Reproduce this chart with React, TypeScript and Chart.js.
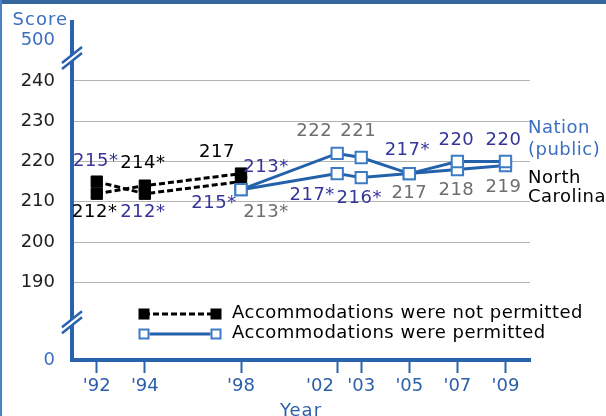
import React, { useEffect, useRef } from "react";
import { Chart, registerables } from "chart.js";

Chart.register(...registerables);

// ---------------- data ----------------
const notPermittedYears = [1992, 1994, 1998];
const permittedYears = [1998, 2002, 2003, 2005, 2007, 2009];

const ncNotPermitted = [212, 214, 217];
const nationNotPermitted = [215, 212, 215];
const ncPermitted = [213, 222, 221, 217, 218, 219];
const nationPermitted = [213, 217, 216, 217, 220, 220];

const ncNotPermittedLabels = ["212*", "214*", "217"];
const nationNotPermittedLabels = ["215*", "212*", "215*"];
const ncPermittedLabels = ["213*", "222", "221", "217", "218", "219"];
const nationPermittedLabels = ["213*", "217*", "216*", "217*", "220", "220"];

const xTickYears = [1992, 1994, 1998, 2002, 2003, 2005, 2007, 2009];
const yTickValues = [190, 200, 210, 220, 230, 240];
const yBreakBottomLabel = "0";
const yBreakTopLabel = "500";

const legendLabels = [
  "Accommodations were not permitted",
  "Accommodations were permitted",
];
const nationLabel = ["Nation", "(public)"];
const ncLabel = ["North", "Carolina"];
const yAxisTitle = "Score";
const xAxisTitle = "Year";

// ---------------- layout / style ----------------
const FONT = '"DejaVu Sans", Verdana, sans-serif';
const AXIS_BLUE = "#2a62ad";
const TICK_BLUE = "#2c5fa9";
const LIGHT_BLUE = "#3c6fc0";
const LINE_BLUE = "#2461ab";
const POINT_BLUE = "#3b7cc4";
const LABEL_BLUE = "#35359a";
const LABEL_GRAY = "#6e6e6e";

// compressed axis: position of "0" and "500" on the broken scale
const Y_ZERO_POS = 170.7;
const Y_TOP_POS = 250;
const Y_MAX = 254.65;
const X_MIN = 1990.97;
const X_MAX = 2010.02;

// label offsets (px) from point centers
const ncNotPermittedOffsets = [[-2, 19], [-2, -22], [-24, -21]];
const nationNotPermittedOffsets = [[-1, -20], [-2, 19], [-27, 22]];
const ncPermittedOffsets = [[25, 23], [-23, -22], [-3, -26], [0, 20], [-1, 21], [-2, 22]];
const nationPermittedOffsets = [[25, -22], [-25, 22], [-2, 21], [-2, -23], [-1, -21], [-2, -21]];
// extra right-padding (in spaces) for crowded x tick labels
const xTickPad: Record<number, string> = { 2002: "      " };

function pts(xs: number[], ys: number[]) {
  return xs.map((x, i) => ({ x, y: ys[i] }));
}

function drawBreak(ctx: CanvasRenderingContext2D, cx: number, cy: number) {
  const hx = 10, hy = 8, g = 3;
  ctx.save();
  ctx.fillStyle = "#ffffff";
  ctx.beginPath();
  ctx.moveTo(cx - hx, cy + hy - g);
  ctx.lineTo(cx + hx, cy - hy - g);
  ctx.lineTo(cx + hx, cy - hy + g);
  ctx.lineTo(cx - hx, cy + hy + g);
  ctx.closePath();
  ctx.fill();
  ctx.strokeStyle = AXIS_BLUE;
  ctx.lineWidth = 2.5;
  ctx.beginPath();
  ctx.moveTo(cx - hx, cy + hy - g);
  ctx.lineTo(cx + hx, cy - hy - g);
  ctx.moveTo(cx - hx, cy + hy + g);
  ctx.lineTo(cx + hx, cy - hy + g);
  ctx.stroke();
  ctx.restore();
}

function drawMarker(ctx: CanvasRenderingContext2D, x: number, y: number, filled: boolean) {
  const s = 11;
  ctx.save();
  if (filled) {
    ctx.fillStyle = "#000";
    ctx.fillRect(x - s / 2, y - s / 2, s, s);
  } else {
    ctx.fillStyle = "#fff";
    ctx.fillRect(x - s / 2, y - s / 2, s, s);
    ctx.strokeStyle = POINT_BLUE;
    ctx.lineWidth = 2;
    ctx.strokeRect(x - s / 2 + 1, y - s / 2 + 1, s - 2, s - 2);
  }
  ctx.restore();
}

const decorPlugin = {
  id: "decor",
  beforeDraw(chart: any) {
    const ctx = chart.ctx as CanvasRenderingContext2D;
    ctx.save();
    ctx.fillStyle = "#fff";
    ctx.fillRect(0, 0, chart.width, chart.height);
    ctx.fillStyle = "#33669b";
    ctx.fillRect(0, 0, chart.width, 4);
    ctx.fillStyle = "#4a82c4";
    ctx.fillRect(0, 0, 2, chart.height);
    ctx.restore();
  },
  afterDatasetsDraw(chart: any) {
    const ctx = chart.ctx as CanvasRenderingContext2D;
    const groups: [number, string[], number[][], string][] = [
      [0, nationPermittedLabels, nationPermittedOffsets, LABEL_BLUE],
      [1, ncPermittedLabels, ncPermittedOffsets, LABEL_GRAY],
      [2, nationNotPermittedLabels, nationNotPermittedOffsets, LABEL_BLUE],
      [3, ncNotPermittedLabels, ncNotPermittedOffsets, "#000"],
    ];
    ctx.save();
    ctx.font = `18px ${FONT}`;
    ctx.textAlign = "center";
    ctx.textBaseline = "middle";
    (ctx as any).letterSpacing = "0.5px";
    groups.forEach(([di, labels, offs, color]) => {
      const meta = chart.getDatasetMeta(di);
      meta.data.forEach((el: any, j: number) => {
        ctx.fillStyle = color;
        ctx.fillText(labels[j], el.x + offs[j][0], el.y + offs[j][1]);
      });
    });
    ctx.restore();
  },
  afterDraw(chart: any) {
    const ctx = chart.ctx as CanvasRenderingContext2D;
    const { chartArea } = chart;
    const yS = chart.scales.y;
    // axis breaks
    drawBreak(ctx, chartArea.left, yS.getPixelForValue(245.7));
    drawBreak(ctx, chartArea.left, yS.getPixelForValue(180.1));

    ctx.save();
    ctx.font = `18px ${FONT}`;
    ctx.textBaseline = "middle";
    // y title
    ctx.fillStyle = LIGHT_BLUE;
    ctx.textAlign = "right";
    (ctx as any).letterSpacing = "1px";
    ctx.fillText(yAxisTitle, 68, 20);
    // x title
    ctx.textAlign = "center";
    ctx.fillStyle = TICK_BLUE;
    ctx.fillText(xAxisTitle, (chartArea.left + chartArea.right) / 2, 411);

    // side labels
    (ctx as any).letterSpacing = "0.5px";
    ctx.textAlign = "left";
    const nMeta = chart.getDatasetMeta(0).data;
    const cMeta = chart.getDatasetMeta(1).data;
    const nLast = nMeta[nMeta.length - 1];
    const cLast = cMeta[cMeta.length - 1];
    ctx.fillStyle = LIGHT_BLUE;
    ctx.fillText(nationLabel[0], chartArea.right - 2, nLast.y - 33);
    ctx.fillText(nationLabel[1], chartArea.right - 2, nLast.y - 11);
    ctx.fillStyle = "#000";
    ctx.fillText(ncLabel[0], chartArea.right - 2, cLast.y + 13);
    ctx.fillText(ncLabel[1], chartArea.right - 2, cLast.y + 32);

    // legend
    const rows = [
      { y: 314, filled: true },
      { y: 334, filled: false },
    ];
    rows.forEach((r, i) => {
      ctx.save();
      if (r.filled) {
        ctx.strokeStyle = "#000";
        ctx.lineWidth = 3;
        ctx.setLineDash([6, 3]);
      } else {
        ctx.strokeStyle = LINE_BLUE;
        ctx.lineWidth = 3;
      }
      ctx.beginPath();
      ctx.moveTo(144, r.y);
      ctx.lineTo(216, r.y);
      ctx.stroke();
      ctx.restore();
      drawMarker(ctx, 144, r.y, r.filled);
      drawMarker(ctx, 216, r.y, r.filled);
      ctx.fillStyle = "#000";
      ctx.fillText(legendLabels[i], 232, r.y - 1);
    });
    ctx.restore();
  },
};

export default function App() {
  const canvasRef = useRef<HTMLCanvasElement | null>(null);

  useEffect(() => {
    document.body.style.margin = "0";
    const canvas = canvasRef.current;
    if (!canvas) return;

    const permittedStyle = {
      borderColor: LINE_BLUE,
      borderWidth: 3,
      pointStyle: "rect" as const,
      pointRadius: 8,
      pointBackgroundColor: "#ffffff",
      pointBorderColor: POINT_BLUE,
      pointBorderWidth: 2,
      tension: 0,
      fill: false,
    };
    const notPermittedStyle = {
      borderColor: "#000000",
      borderWidth: 3,
      borderDash: [6, 3],
      pointStyle: "rect" as const,
      pointRadius: 8,
      pointBackgroundColor: "#000000",
      pointBorderColor: "#000000",
      pointBorderWidth: 1,
      tension: 0,
      fill: false,
    };

    const chart = new Chart(canvas, {
      type: "line",
      data: {
        datasets: [
          { label: "Nation (public) permitted", data: pts(permittedYears, nationPermitted), ...permittedStyle },
          { label: "North Carolina permitted", data: pts(permittedYears, ncPermitted), ...permittedStyle },
          { label: "Nation (public) not permitted", data: pts(notPermittedYears, nationNotPermitted), ...notPermittedStyle },
          { label: "North Carolina not permitted", data: pts(notPermittedYears, ncNotPermitted), ...notPermittedStyle },
        ],
      },
      options: {
        animation: false,
        responsive: false,
        devicePixelRatio: 1,
        layout: { padding: { top: 22, left: 0, right: 76, bottom: 0 } },
        plugins: {
          legend: { display: false },
          tooltip: { enabled: false },
        },
        scales: {
          x: {
            type: "linear",
            min: X_MIN,
            max: X_MAX,
            afterBuildTicks: (s: any) => {
              s.ticks = xTickYears.map((v) => ({ value: v }));
            },
            afterFit: (s: any) => {
              s.height = 56;
              s.paddingLeft = 0;
              s.paddingRight = 0;
            },
            grid: {
              drawOnChartArea: false,
              drawTicks: true,
              tickLength: 13,
              tickWidth: 2,
              tickColor: AXIS_BLUE,
            },
            border: { display: true, color: AXIS_BLUE, width: 4 },
            ticks: {
              autoSkip: false,
              maxRotation: 0,
              padding: 3,
              color: TICK_BLUE,
              font: { family: FONT, size: 18 },
              callback: (v: any) => "'" + String(v).slice(2) + (xTickPad[v] || ""),
            },
          },
          y: {
            type: "linear",
            min: Y_ZERO_POS,
            max: Y_MAX,
            afterBuildTicks: (s: any) => {
              s.ticks = [Y_ZERO_POS, ...yTickValues, Y_TOP_POS].map((v) => ({ value: v }));
            },
            afterFit: (s: any) => {
              s.width = 72;
              s.paddingTop = 0;
              s.paddingBottom = 0;
            },
            grid: {
              drawTicks: false,
              lineWidth: 1,
              color: (c: any) =>
                c.tick && yTickValues.includes(c.tick.value) ? "#b4b4b4" : "rgba(0,0,0,0)",
            },
            border: { display: true, color: AXIS_BLUE, width: 4 },
            ticks: {
              padding: 17,
              font: { family: FONT, size: 18 },
              color: (c: any) =>
                c.tick && yTickValues.includes(c.tick.value) ? "#1e1e1e" : LIGHT_BLUE,
              callback: (v: any) => {
                if (v === Y_ZERO_POS) return yBreakBottomLabel;
                if (v === Y_TOP_POS) return yBreakTopLabel;
                return String(v);
              },
            },
          },
        },
      },
      plugins: [decorPlugin],
    });

    return () => chart.destroy();
  }, []);

  return (
    <div style={{ width: 606, height: 416, position: "relative" }}>
      <canvas ref={canvasRef} width={606} height={416} style={{ display: "block" }} />
    </div>
  );
}
